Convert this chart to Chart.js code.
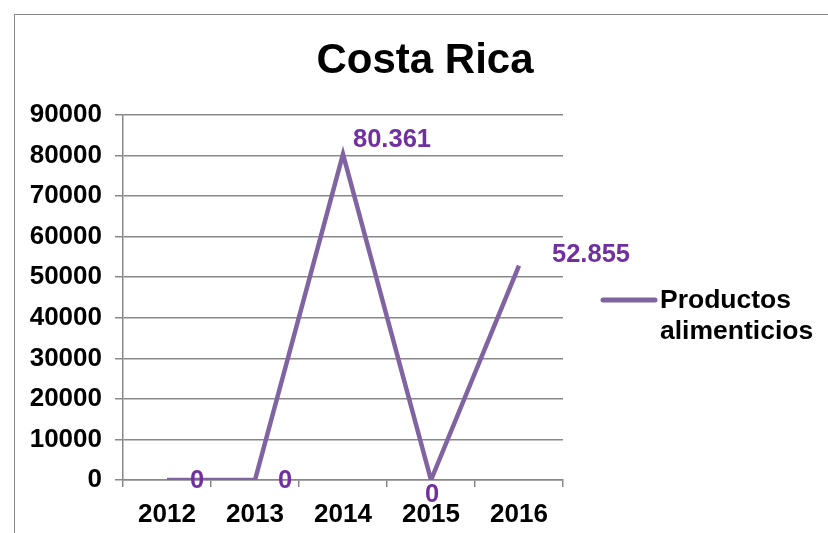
<!DOCTYPE html>
<html>
<head>
<meta charset="utf-8">
<script src="https://cdn.jsdelivr.net/npm/chart.js@4.4.0/dist/chart.umd.min.js"></script>
<style>
body{margin:0;background:#fff;}
#wrap{position:relative;width:828px;height:533px;overflow:hidden;}
#frame{position:absolute;left:14px;top:14px;width:900px;height:600px;border:1px solid #868686;}
canvas{position:absolute;left:0;top:0;}
</style>
</head>
<body>
<div id="wrap"><div id="frame"></div><canvas id="myChart" width="828" height="533"></canvas></div>
<script>
var years = ["2012", "2013", "2014", "2015", "2016"];
var productos = [0, 0, 80361, 0, 52855];
var yTicks = [0, 10000, 20000, 30000, 40000, 50000, 60000, 70000, 80000, 90000];
var seriesName = ["Productos", "alimenticios"];
var chartTitle = "Costa Rica";

var FONT = '"Liberation Sans", Arial, sans-serif';
var LINE = '#8064A2';
var LABEL = '#7030A0';
var GRID = '#888888';

function fmt(v) {
	return String(v).replace(/\B(?=(\d{3})+(?!\d))/g, '.');
}

// etiquetas de datos, titulo y leyenda dibujados a mano
var labelOffsets = [[30, 1], [30, 1], [49, -14], [1, 15], [72, -11]];
var extras = {
	id: 'extras',
	afterDatasetsDraw: function(chart) {
		var ctx = chart.ctx;
		var meta = chart.getDatasetMeta(0);
		ctx.save();
		ctx.font = 'bold 25.5px ' + FONT;
		ctx.fillStyle = LABEL;
		ctx.textAlign = 'center';
		ctx.textBaseline = 'middle';
		meta.data.forEach(function(pt, i) {
			var o = labelOffsets[i];
			ctx.fillText(fmt(productos[i]), pt.x + o[0], pt.y + o[1]);
		});
		// titulo
		ctx.fillStyle = '#000';
		ctx.font = 'bold 42px ' + FONT;
		ctx.fillText(chartTitle, 425, 61);
		// leyenda
		ctx.strokeStyle = LINE;
		ctx.lineWidth = 5;
		ctx.lineCap = 'round';
		ctx.beginPath();
		ctx.moveTo(603, 300);
		ctx.lineTo(655, 300);
		ctx.stroke();
		ctx.font = 'bold 26.5px ' + FONT;
		ctx.textAlign = 'left';
		ctx.fillText(seriesName[0], 660, 301);
		ctx.fillText(seriesName[1], 660, 332);
		ctx.restore();
	}
};

var ctx = document.getElementById("myChart").getContext('2d');
var myChart = new Chart(ctx, {
	type: 'line',
	data: {
		labels: years,
		datasets: [{
			label: seriesName.join(' '),
			data: productos,
			borderColor: LINE,
			borderWidth: 4.5,
			pointRadius: 0,
			fill: false,
			tension: 0
		}]
	},
	options: {
		responsive: false,
		animation: false,
		layout: { padding: { left: 0, right: 265, top: 115, bottom: 0 } },
		plugins: {
			legend: { display: false },
			title: { display: false },
			tooltip: { enabled: false }
		},
		scales: {
			x: {
				offset: true,
				grid: { drawOnChartArea: false, offset: true, tickLength: 7, color: GRID, lineWidth: 1.5 },
				border: { display: true, color: GRID, width: 1.5 },
				ticks: { color: '#000', padding: 12, font: { family: FONT, size: 26, weight: 'bold' }, maxRotation: 0 },
				afterFit: function(s) { s.height = 53; }
			},
			y: {
				min: 0,
				max: 90000,
				afterBuildTicks: function(s) { s.ticks = yTicks.map(function(v) { return { value: v }; }); },
				grid: { color: GRID, lineWidth: 1.5, tickLength: 8 },
				border: { display: true, color: GRID, width: 1.5 },
				ticks: {
					color: '#000',
					padding: 13,
					font: { family: FONT, size: 26, weight: 'bold' },
					callback: function(v) { return String(v); }
				},
				afterFit: function(s) { s.width = 123; }
			}
		}
	},
	plugins: [extras]
});
</script>
</body>
</html>
